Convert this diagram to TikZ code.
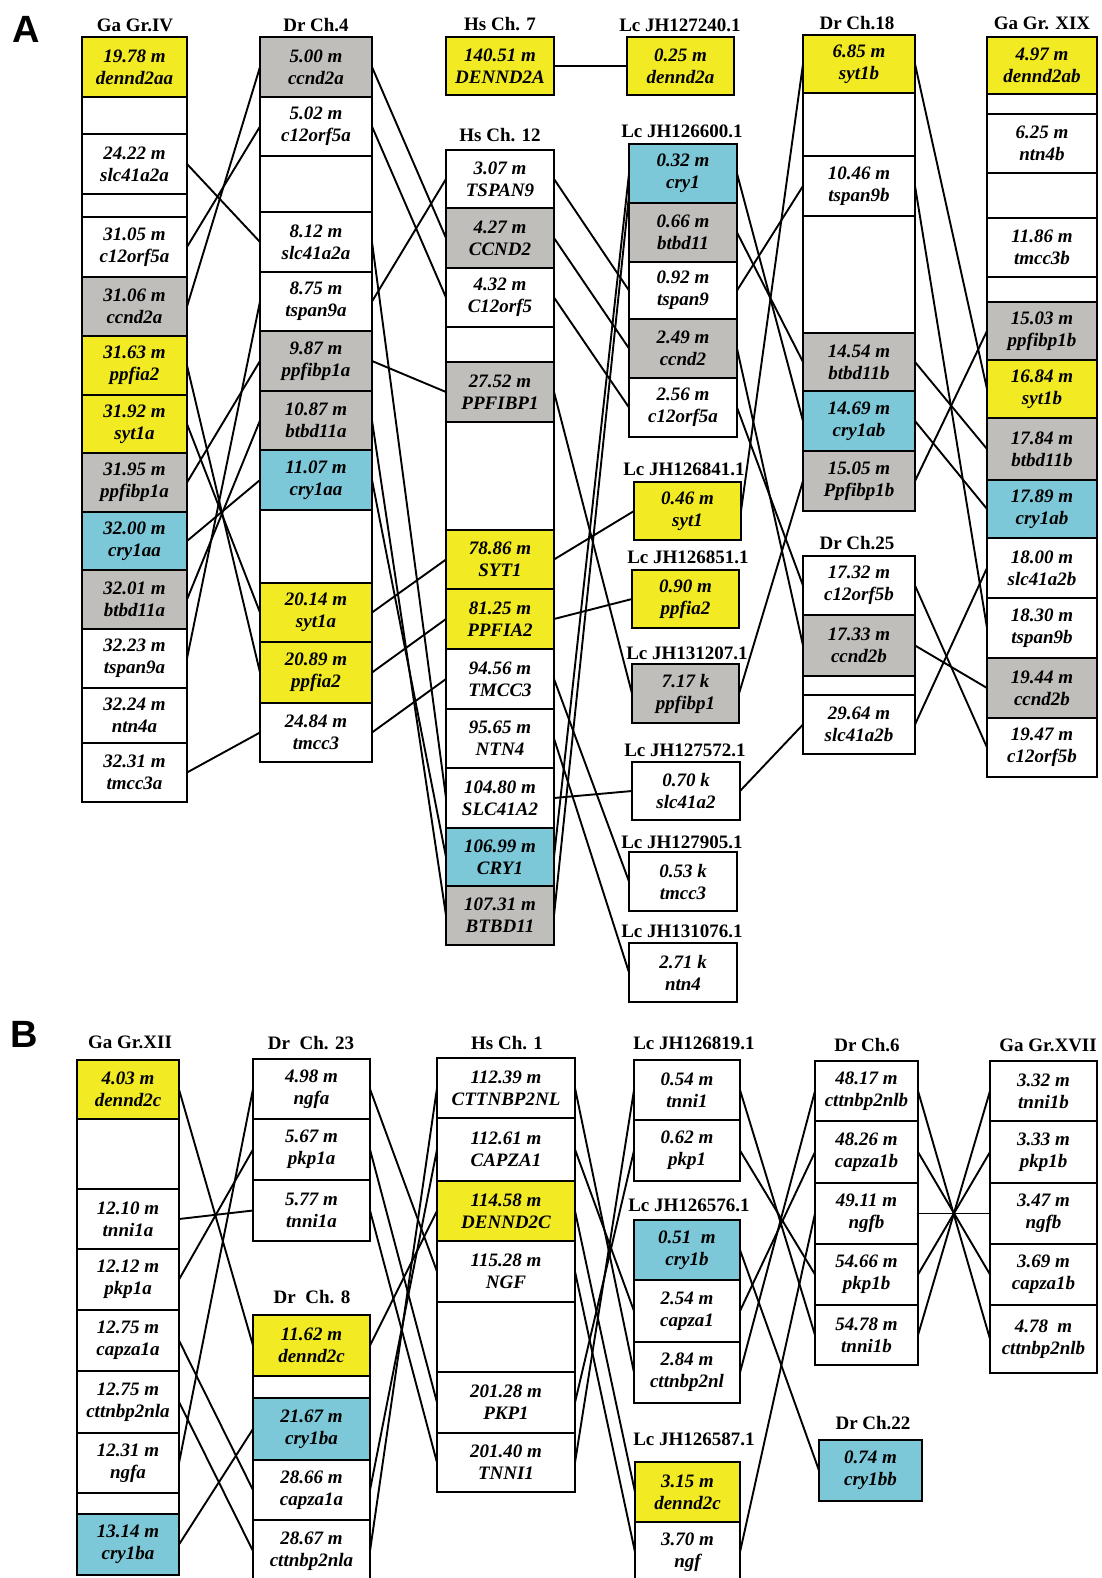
\documentclass[tikz,border=0pt]{standalone}
\usepackage{fontspec}
\setmainfont{Liberation Serif}
\newfontfamily\labfont{Liberation Sans}
\definecolor{gy}{RGB}{242,235,35}
\definecolor{gg}{RGB}{192,190,187}
\definecolor{gc}{RGB}{124,200,216}
\newcommand{\segfont}{\fontsize{19}{22}\selectfont\bfseries\itshape}
\newcommand{\ttlfont}{\fontsize{19}{22}\selectfont\bfseries}
\newcommand{\gseg}[7]{%
  \pgfmathsetmacro{\gw}{#3-#2}\pgfmathsetmacro{\gh}{#5-#4}%
  \pgfmathsetmacro{\gx}{(#2+#3)/2}\pgfmathsetmacro{\gy}{(#4+#5)/2}%
  \node[segbox, fill=#6, minimum width=\gw pt, minimum height=\gh pt] (#1) at (\gx,\gy) {#7};}
\begin{document}
\begin{tikzpicture}[x=1pt,y=-1pt,
  segbox/.style={draw=black, line width=2.2pt, inner sep=0pt, outer sep=0pt, align=center, font=\segfont},
  ttl/.style={inner sep=0pt, font=\ttlfont},
  conn/.style={draw=black, line width=1.9pt},
  panel/.style={inner sep=0pt, font=\labfont\fontsize{38}{40}\selectfont\bfseries}]
\useasboundingbox[fill=white] (0,0) rectangle (1101,1578);

% ---------------- Panel A ----------------
\node[panel] (labA) at (26,29) {A};
\node[ttl] (tA1) at (135,25) {Ga Gr.IV};
\node[ttl] (tA2) at (316,25) {Dr Ch.4};
\node[ttl] (tA3) at (500,24) {Hs Ch. 7};
\node[ttl] (tA4) at (680,25) {Lc JH127240.1};
\node[ttl] (tA5) at (857,23) {Dr Ch.18};
\node[ttl] (tA6) at (1042,23) {Ga Gr. XIX};
\node[ttl] (tA7) at (500,135) {Hs Ch. 12};
\node[ttl] (tA8) at (682,131) {Lc JH126600.1};
\node[ttl] (tA9) at (684,469) {Lc JH126841.1};
\node[ttl] (tA10) at (688,557) {Lc JH126851.1};
\node[ttl] (tA11) at (687,653) {Lc JH131207.1};
\node[ttl] (tA12) at (685,750) {Lc JH127572.1};
\node[ttl] (tA13) at (682,842) {Lc JH127905.1};
\node[ttl] (tA14) at (682,931) {Lc JH131076.1};
\node[ttl] (tA15) at (857,543) {Dr Ch.25};

% Ga Gr.IV
\gseg{a1dennd}{82}{187}{37}{97}{gy}{19.78 m\\dennd2aa}
\gseg{a1e1}{82}{187}{97}{134}{white}{}
\gseg{a1slc}{82}{187}{134}{194}{white}{24.22 m\\slc41a2a}
\gseg{a1e2}{82}{187}{194}{217}{white}{}
\gseg{a1c12}{82}{187}{217}{277}{white}{31.05 m\\c12orf5a}
\gseg{a1ccnd}{82}{187}{277}{336}{gg}{31.06 m\\ccnd2a}
\gseg{a1ppfia}{82}{187}{336}{395}{gy}{31.63 m\\ppfia2}
\gseg{a1syt}{82}{187}{395}{453}{gy}{31.92 m\\syt1a}
\gseg{a1ppfibp}{82}{187}{453}{512}{gg}{31.95 m\\ppfibp1a}
\gseg{a1cry}{82}{187}{512}{570}{gc}{32.00 m\\cry1aa}
\gseg{a1btb}{82}{187}{570}{629}{gg}{32.01 m\\btbd11a}
\gseg{a1tsp}{82}{187}{629}{688}{white}{32.23 m\\tspan9a}
\gseg{a1ntn}{82}{187}{688}{743}{white}{32.24 m\\ntn4a}
\gseg{a1tmcc}{82}{187}{743}{802}{white}{32.31 m\\tmcc3a}

% Dr Ch.4
\gseg{a2ccnd}{260}{372}{37}{97}{gg}{5.00 m\\ccnd2a}
\gseg{a2c12}{260}{372}{97}{156}{white}{5.02 m\\c12orf5a}
\gseg{a2e1}{260}{372}{156}{212}{white}{}
\gseg{a2slc}{260}{372}{212}{272}{white}{8.12 m\\slc41a2a}
\gseg{a2tsp}{260}{372}{272}{331}{white}{8.75 m\\tspan9a}
\gseg{a2ppfibp}{260}{372}{331}{391}{gg}{9.87 m\\ppfibp1a}
\gseg{a2btb}{260}{372}{391}{450}{gg}{10.87 m\\btbd11a}
\gseg{a2cry}{260}{372}{450}{510}{gc}{11.07 m\\cry1aa}
\gseg{a2e2}{260}{372}{510}{583}{white}{}
\gseg{a2syt}{260}{372}{583}{642}{gy}{20.14 m\\syt1a}
\gseg{a2ppfia}{260}{372}{642}{703}{gy}{20.89 m\\ppfia2}
\gseg{a2tmcc}{260}{372}{703}{762}{white}{24.84 m\\tmcc3}

% Hs Ch.7 / Ch.12
\gseg{a3d}{446}{554}{37}{95}{gy}{140.51 m\\DENND2A}
\gseg{a3tsp}{446}{554}{150}{208}{white}{3.07 m\\TSPAN9}
\gseg{a3ccnd}{446}{554}{208}{268}{gg}{4.27 m\\CCND2}
\gseg{a3c12}{446}{554}{268}{327}{white}{4.32 m\\C12orf5}
\gseg{a3e1}{446}{554}{327}{362}{white}{}
\gseg{a3ppfibp}{446}{554}{362}{422}{gg}{27.52 m\\PPFIBP1}
\gseg{a3e2}{446}{554}{422}{530}{white}{}
\gseg{a3syt}{446}{554}{530}{589}{gy}{78.86 m\\SYT1}
\gseg{a3ppfia}{446}{554}{589}{649}{gy}{81.25 m\\PPFIA2}
\gseg{a3tmcc}{446}{554}{649}{709}{white}{94.56 m\\TMCC3}
\gseg{a3ntn}{446}{554}{709}{768}{white}{95.65 m\\NTN4}
\gseg{a3slc}{446}{554}{768}{828}{white}{104.80 m\\SLC41A2}
\gseg{a3cry}{446}{554}{828}{886}{gc}{106.99 m\\CRY1}
\gseg{a3btb}{446}{554}{886}{945}{gg}{107.31 m\\BTBD11}

% Lc scaffolds
\gseg{a4dennd}{627}{734}{37}{95}{gy}{0.25 m\\dennd2a}
\gseg{a4cry}{629}{737}{144}{203}{gc}{0.32 m\\cry1}
\gseg{a4btb}{629}{737}{203}{262}{gg}{0.66 m\\btbd11}
\gseg{a4tsp}{629}{737}{262}{319}{white}{0.92 m\\tspan9}
\gseg{a4ccnd}{629}{737}{319}{378}{gg}{2.49 m\\ccnd2}
\gseg{a4c12}{629}{737}{378}{437}{white}{2.56 m\\c12orf5a}
\gseg{a4syt}{634}{741}{482}{540}{gy}{0.46 m\\syt1}
\gseg{a4ppfia}{632}{739}{570}{628}{gy}{0.90 m\\ppfia2}
\gseg{a4ppfibp}{632}{739}{664}{723}{gg}{7.17 k\\ppfibp1}
\gseg{a4slc}{632}{740}{762}{820}{white}{0.70 k\\slc41a2}
\gseg{a4tmcc}{629}{737}{852}{911}{white}{0.53 k\\tmcc3}
\gseg{a4ntn}{629}{737}{943}{1002}{white}{2.71 k\\ntn4}

% Dr Ch.18 / Ch.25
\gseg{a5syt}{803}{915}{35}{93}{gy}{6.85 m\\syt1b}
\gseg{a5e1}{803}{915}{93}{156}{white}{}
\gseg{a5tsp}{803}{915}{156}{216}{white}{10.46 m\\tspan9b}
\gseg{a5e2}{803}{915}{216}{333}{white}{}
\gseg{a5btb}{803}{915}{333}{391}{gg}{14.54 m\\btbd11b}
\gseg{a5cry}{803}{915}{391}{451}{gc}{14.69 m\\cry1ab}
\gseg{a5ppfibp}{803}{915}{451}{511}{gg}{15.05 m\\Ppfibp1b}
\gseg{a5c12}{803}{915}{556}{615}{white}{17.32 m\\c12orf5b}
\gseg{a5ccnd}{803}{915}{615}{676}{gg}{17.33 m\\ccnd2b}
\gseg{a5e3}{803}{915}{676}{695}{white}{}
\gseg{a5slc}{803}{915}{695}{754}{white}{29.64 m\\slc41a2b}

% Ga Gr. XIX
\gseg{a6dennd}{987}{1097}{37}{94}{gy}{4.97 m\\dennd2ab}
\gseg{a6e1}{987}{1097}{94}{114}{white}{}
\gseg{a6ntn}{987}{1097}{114}{173}{white}{6.25 m\\ntn4b}
\gseg{a6e2}{987}{1097}{173}{218}{white}{}
\gseg{a6tmcc}{987}{1097}{218}{277}{white}{11.86 m\\tmcc3b}
\gseg{a6e3}{987}{1097}{277}{302}{white}{}
\gseg{a6ppfibp}{987}{1097}{302}{360}{gg}{15.03 m\\ppfibp1b}
\gseg{a6syt}{987}{1097}{360}{418}{gy}{16.84 m\\syt1b}
\gseg{a6btb}{987}{1097}{418}{480}{gg}{17.84 m\\btbd11b}
\gseg{a6cry}{987}{1097}{480}{538}{gc}{17.89 m\\cry1ab}
\gseg{a6slc}{987}{1097}{538}{598}{white}{18.00 m\\slc41a2b}
\gseg{a6tsp}{987}{1097}{598}{658}{white}{18.30 m\\tspan9b}
\gseg{a6ccnd}{987}{1097}{658}{718}{gg}{19.44 m\\ccnd2b}
\gseg{a6c12}{987}{1097}{718}{777}{white}{19.47 m\\c12orf5b}

% connectors A
\draw[conn] (a1slc.east) -- (a2slc.west);
\draw[conn] (a1c12.east) -- (a2c12.west);
\draw[conn] (a1ccnd.east) -- (a2ccnd.west);
\draw[conn] (a1ppfia.east) -- (a2ppfia.west);
\draw[conn] (a1syt.east) -- (a2syt.west);
\draw[conn] (a1ppfibp.east) -- (a2ppfibp.west);
\draw[conn] (a1cry.east) -- (a2cry.west);
\draw[conn] (a1btb.east) -- (a2btb.west);
\draw[conn] (a1tsp.east) -- (a2tsp.west);
\draw[conn] (a1tmcc.east) -- (a2tmcc.west);

\draw[conn] (a2ccnd.east) -- (a3ccnd.west);
\draw[conn] (a2c12.east) -- (a3c12.west);
\draw[conn] (a2tsp.east) -- (a3tsp.west);
\draw[conn] (a2ppfibp.east) -- (a3ppfibp.west);
\draw[conn] (a2slc.east) -- (a3slc.west);
\draw[conn] (a2btb.east) -- (a3btb.west);
\draw[conn] (a2cry.east) -- (a3cry.west);
\draw[conn] (a2syt.east) -- (a3syt.west);
\draw[conn] (a2ppfia.east) -- (a3ppfia.west);
\draw[conn] (a2tmcc.east) -- (a3tmcc.west);

\draw[conn] (a3d.east) -- (a4dennd.west);
\draw[conn] (a3tsp.east) -- (a4tsp.west);
\draw[conn] (a3ccnd.east) -- (a4ccnd.west);
\draw[conn] (a3c12.east) -- (a4c12.west);
\draw[conn] (a3ppfibp.east) -- (a4ppfibp.west);
\draw[conn] (a3syt.east) -- (a4syt.west);
\draw[conn] (a3ppfia.east) -- (a4ppfia.west);
\draw[conn] (a3slc.east) -- (a4slc.west);
\draw[conn] (a3tmcc.east) -- (a4tmcc.west);
\draw[conn] (a3ntn.east) -- (a4ntn.west);
\draw[conn] (a3cry.east) -- (a4cry.west);
\draw[conn] (a3btb.east) -- ([yshift=-22pt]a4cry.west);

\draw[conn] (a4cry.east) -- (a5cry.west);
\draw[conn] (a4btb.east) -- (a5btb.west);
\draw[conn] (a4tsp.east) -- (a5tsp.west);
\draw[conn] (a4ccnd.east) -- (a5ccnd.west);
\draw[conn] (a4c12.east) -- (a5c12.west);
\draw[conn] (a4syt.east) -- (a5syt.west);
\draw[conn] (a4ppfibp.east) -- (a5ppfibp.west);
\draw[conn] (a4slc.east) -- (a5slc.west);

\draw[conn] (a5syt.east) -- (a6syt.west);
\draw[conn] (a5tsp.east) -- (a6tsp.west);
\draw[conn] (a5btb.east) -- (a6btb.west);
\draw[conn] (a5cry.east) -- (a6cry.west);
\draw[conn] (a5ppfibp.east) -- (a6ppfibp.west);
\draw[conn] (a5c12.east) -- (a6c12.west);
\draw[conn] (a5ccnd.east) -- (a6ccnd.west);
\draw[conn] (a5slc.east) -- (a6slc.west);

% ---------------- Panel B ----------------
\node[panel] (labB) at (24,1034) {B};
\node[ttl] (tB1) at (130,1042) {Ga Gr.XII};
\node[ttl] (tB2) at (311,1043) {Dr\ \ Ch. 23};
\node[ttl] (tB3) at (507,1043) {Hs Ch. 1};
\node[ttl] (tB4) at (694,1043) {Lc JH126819.1};
\node[ttl] (tB5) at (867,1045) {Dr Ch.6};
\node[ttl] (tB6) at (1048,1045) {Ga Gr.XVII};
\node[ttl] (tB7) at (312,1297) {Dr\ \ Ch. 8};
\node[ttl] (tB8) at (689,1205) {Lc JH126576.1};
\node[ttl] (tB9) at (694,1439) {Lc JH126587.1};
\node[ttl] (tB10) at (873,1423) {Dr Ch.22};

% Ga Gr.XII
\gseg{b1dennd}{77}{179}{1060}{1119}{gy}{4.03 m\\dennd2c}
\gseg{b1e1}{77}{179}{1119}{1189}{white}{}
\gseg{b1tnni}{77}{179}{1189}{1249}{white}{12.10 m\\tnni1a}
\gseg{b1pkp}{77}{179}{1249}{1310}{white}{12.12 m\\pkp1a}
\gseg{b1capz}{77}{179}{1310}{1371}{white}{12.75 m\\capza1a}
\gseg{b1cttn}{77}{179}{1371}{1433}{white}{12.75 m\\cttnbp2nla}
\gseg{b1ngf}{77}{179}{1433}{1493}{white}{12.31 m\\ngfa}
\gseg{b1e2}{77}{179}{1493}{1514}{white}{}
\gseg{b1cry}{77}{179}{1514}{1575}{gc}{13.14 m\\cry1ba}

% Dr Ch.23 / Ch.8
\gseg{b2ngf}{253}{370}{1059}{1119}{white}{4.98 m\\ngfa}
\gseg{b2pkp}{253}{370}{1119}{1180}{white}{5.67 m\\pkp1a}
\gseg{b2tnni}{253}{370}{1180}{1241}{white}{5.77 m\\tnni1a}
\gseg{b2dennd}{253}{370}{1315}{1376}{gy}{11.62 m\\dennd2c}
\gseg{b2e1}{253}{370}{1376}{1398}{white}{}
\gseg{b2cry}{253}{370}{1398}{1460}{gc}{21.67 m\\cry1ba}
\gseg{b2capz}{253}{370}{1460}{1520}{white}{28.66 m\\capza1a}
\gseg{b2cttn}{253}{370}{1520}{1582}{white}{28.67 m\\cttnbp2nla}

% Hs Ch.1
\gseg{b3cttn}{437}{575}{1058}{1118}{white}{112.39 m\\CTTNBP2NL}
\gseg{b3capz}{437}{575}{1118}{1181}{white}{112.61 m\\CAPZA1}
\gseg{b3dennd}{437}{575}{1181}{1241}{gy}{114.58 m\\DENND2C}
\gseg{b3ngf}{437}{575}{1241}{1302}{white}{115.28 m\\NGF}
\gseg{b3e1}{437}{575}{1302}{1372}{white}{}
\gseg{b3pkp}{437}{575}{1372}{1433}{white}{201.28 m\\PKP1}
\gseg{b3tnni}{437}{575}{1433}{1492}{white}{201.40 m\\TNNI1}

% Lc
\gseg{b4tnni}{634}{740}{1060}{1120}{white}{0.54 m\\tnni1}
\gseg{b4pkp}{634}{740}{1120}{1181}{white}{0.62 m\\pkp1}
\gseg{b4cry}{634}{740}{1220}{1280}{gc}{0.51\ \ m\\cry1b}
\gseg{b4capz}{634}{740}{1280}{1342}{white}{2.54 m\\capza1}
\gseg{b4cttn}{634}{740}{1342}{1403}{white}{2.84 m\\cttnbp2nl}
\gseg{b4dennd}{635}{740}{1462}{1522}{gy}{3.15 m\\dennd2c}
\gseg{b4ngf}{635}{740}{1522}{1582}{white}{3.70 m\\ngf}

% Dr Ch.6 / Ch.22
\gseg{b5cttn}{815}{918}{1061}{1121}{white}{48.17 m\\cttnbp2nlb}
\gseg{b5capz}{815}{918}{1121}{1183}{white}{48.26 m\\capza1b}
\gseg{b5ngf}{815}{918}{1183}{1244}{white}{49.11 m\\ngfb}
\gseg{b5pkp}{815}{918}{1244}{1305}{white}{54.66 m\\pkp1b}
\gseg{b5tnni}{815}{918}{1305}{1365}{white}{54.78 m\\tnni1b}
\gseg{b5cry}{819}{922}{1440}{1501}{gc}{0.74 m\\cry1bb}

% Ga Gr.XVII
\gseg{b6tnni}{990}{1097}{1061}{1121}{white}{3.32 m\\tnni1b}
\gseg{b6pkp}{990}{1097}{1121}{1183}{white}{3.33 m\\pkp1b}
\gseg{b6ngf}{990}{1097}{1183}{1244}{white}{3.47 m\\ngfb}
\gseg{b6capz}{990}{1097}{1244}{1305}{white}{3.69 m\\capza1b}
\gseg{b6cttn}{990}{1097}{1305}{1373}{white}{4.78\ \ m\\cttnbp2nlb}

% connectors B
\draw[conn] (b1dennd.east) -- (b2dennd.west);
\draw[conn] (b1tnni.east) -- (b2tnni.west);
\draw[conn] (b1pkp.east) -- (b2pkp.west);
\draw[conn] (b1capz.east) -- (b2capz.west);
\draw[conn] (b1cttn.east) -- (b2cttn.west);
\draw[conn] (b1ngf.east) -- (b2ngf.west);
\draw[conn] (b1cry.east) -- (b2cry.west);

\draw[conn] (b2ngf.east) -- (b3ngf.west);
\draw[conn] (b2pkp.east) -- (b3pkp.west);
\draw[conn] (b2tnni.east) -- (b3tnni.west);
\draw[conn] (b2dennd.east) -- (b3dennd.west);
\draw[conn] (b2capz.east) -- (b3capz.west);
\draw[conn] (b2cttn.east) -- (b3cttn.west);

\draw[conn] (b3cttn.east) -- (b4cttn.west);
\draw[conn] (b3capz.east) -- (b4capz.west);
\draw[conn] (b3dennd.east) -- (b4dennd.west);
\draw[conn] (b3ngf.east) -- (b4ngf.west);
\draw[conn] (b3pkp.east) -- (b4pkp.west);
\draw[conn] (b3tnni.east) -- (b4tnni.west);

\draw[conn] (b4tnni.east) -- (b5tnni.west);
\draw[conn] (b4pkp.east) -- (b5pkp.west);
\draw[conn] (b4cry.east) -- (b5cry.west);
\draw[conn] (b4capz.east) -- (b5capz.west);
\draw[conn] (b4cttn.east) -- (b5cttn.west);
\draw[conn] (b4ngf.east) -- (b5ngf.west);

\draw[conn] (b5cttn.east) -- (b6cttn.west);
\draw[conn] (b5capz.east) -- (b6capz.west);
\draw[conn] (b5ngf.east) -- (b6ngf.west);
\draw[conn] (b5pkp.east) -- (b6pkp.west);
\draw[conn] (b5tnni.east) -- (b6tnni.west);
\end{tikzpicture}
\end{document}
